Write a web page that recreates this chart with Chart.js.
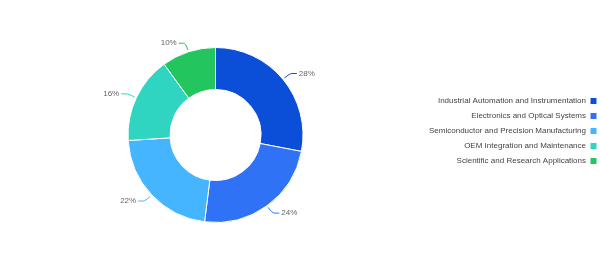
<!DOCTYPE html>
<html>
<head>
<meta charset="utf-8">
<script src="https://cdn.jsdelivr.net/npm/chart.js@4/dist/chart.umd.min.js"></script>
<style>
  html, body { margin: 0; padding: 0; background: #fff; }
  #wrap { width: 600px; height: 261px; position: relative; }
</style>
</head>
<body>
<div id="wrap"><canvas id="pieChart"></canvas></div>
<script>
// Data for the doughnut
var categories = [
    'Industrial Automation and Instrumentation',
    'Electronics and Optical Systems',
    'Semiconductor and Precision Manufacturing',
    'OEM Integration and Maintenance',
    'Scientific and Research Applications'
];
var shares = [28, 24, 22, 16, 10];
var sliceColors = ['#0b4fd8', '#3072f6', '#45b5ff', '#2fd5c1', '#23c55e'];

var fontFamily = '"Liberation Sans", Arial, sans-serif';

// Percent labels outside the ring, with leader lines
var outerLabels = {
    id: 'outerLabels',
    afterLayout: function(chart) {
        // nudge the legend up a little (it sits above centre in the original)
        chart.legend.top -= 4;
        chart.legend.bottom -= 4;
        chart.legend.left += 4;
        chart.legend.right += 4;
    },
    afterDatasetsDraw: function(chart) {
        var ctx = chart.ctx;
        var meta = chart.getDatasetMeta(0);
        var total = shares.reduce(function(a, b) { return a + b; }, 0);
        ctx.save();
        ctx.font = '8px ' + fontFamily;
        ctx.textBaseline = 'middle';
        meta.data.forEach(function(arc, i) {
            var mid = (arc.startAngle + arc.endAngle) / 2;
            var r = arc.outerRadius;
            var cx = arc.x, cy = arc.y;
            var cos = Math.cos(mid), sin = Math.sin(mid);
            var x0 = cx + cos * (r + 2), y0 = cy + sin * (r + 2);
            var x1 = cx + cos * (r + 9), y1 = cy + sin * (r + 9);
            var dir = cos >= 0 ? 1 : -1;
            var x2 = x1 + dir * 7;
            ctx.strokeStyle = sliceColors[i];
            ctx.lineWidth = 1;
            ctx.beginPath();
            ctx.moveTo(x0, y0);
            ctx.quadraticCurveTo(x1, y1, x1 + dir * 2, y1);
            ctx.lineTo(x2, y1);
            ctx.stroke();
            ctx.fillStyle = '#666';
            ctx.textAlign = dir > 0 ? 'left' : 'right';
            var pct = Math.round(shares[i] / total * 100) + '%';
            ctx.fillText(pct, x2 + dir * 2, y1);
        });
        ctx.restore();
    }
};

var ctx = document.getElementById('pieChart').getContext('2d');
new Chart(ctx, {
    type: 'doughnut',
    data: {
        labels: categories,
        datasets: [{
            data: shares,
            backgroundColor: sliceColors,
            borderColor: '#ffffff',
            borderWidth: 1
        }]
    },
    options: {
        responsive: true,
        maintainAspectRatio: false,
        animation: false,
        cutout: '52%',
        layout: {
            padding: { top: 47, bottom: 38, left: 16, right: 0 }
        },
        plugins: {
            legend: {
                position: 'right',
                rtl: true,
                labels: {
                    boxWidth: 7,
                    boxHeight: 7,
                    useBorderRadius: true,
                    borderRadius: 1,
                    padding: 7,
                    color: '#444',
                    font: { size: 8, family: fontFamily }
                }
            },
            tooltip: { enabled: false }
        }
    },
    plugins: [outerLabels]
});
</script>
</body>
</html>
